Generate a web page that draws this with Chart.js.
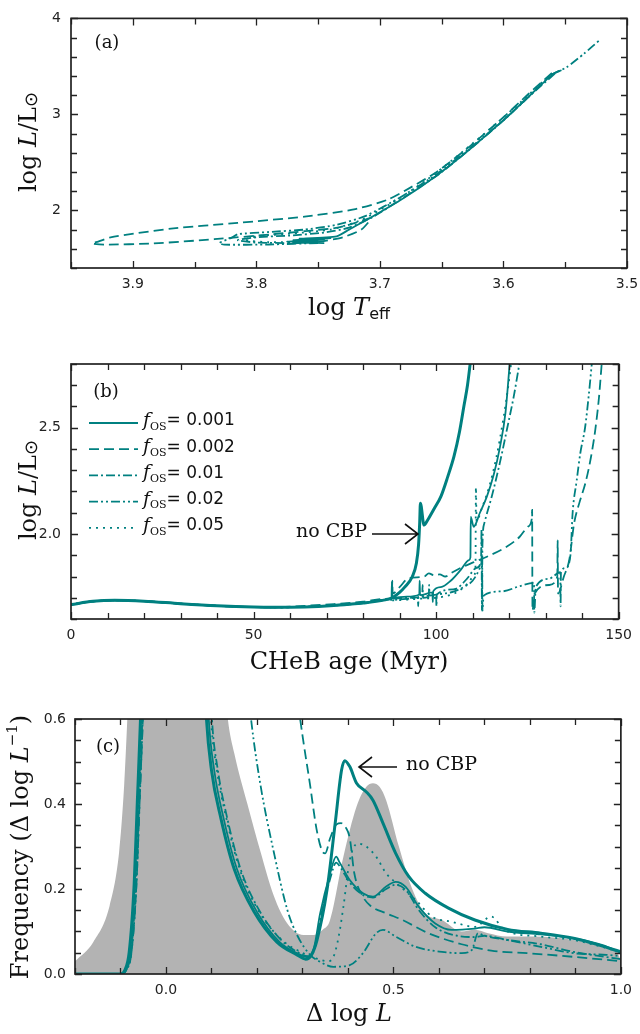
<!DOCTYPE html>
<html>
<head>
<meta charset="utf-8">
<script src="https://cdn.jsdelivr.net/npm/chart.js@4.4.1/dist/chart.umd.min.js"></script>
<style>
  body { margin: 0; background: #fff; width: 640px; height: 1034px; position: relative; overflow: hidden; }
  canvas { position: absolute; left: 0; }
</style>
</head>
<body>
<canvas id="hr" width="640" height="328" style="top:0"></canvas>
<canvas id="age" width="640" height="350" style="top:330px"></canvas>
<canvas id="hist" width="640" height="344" style="top:690px"></canvas>
<script>
// ---- panel (a): HR diagram, [log Teff, log L] ----
var hrTrack001 = [[3.745,1.66],[3.77,1.665],[3.75,1.68],[3.775,1.675],[3.745,1.695],[3.77,1.69],[3.74,1.71],[3.765,1.705],[3.735,1.73],[3.725,1.80],[3.708,1.92],[3.681,2.126],[3.654,2.364],[3.627,2.64],[3.60,2.94],[3.58,3.18],[3.56,3.42],[3.553,3.46]];
var hrTrack002 = [[3.75,1.67],[3.73,1.72],[3.715,1.80],[3.707,1.92],[3.72,1.87],[3.734,1.82],[3.76,1.785],[3.788,1.75],[3.834,1.70],[3.883,1.656],[3.923,1.643],[3.933,1.655],[3.928,1.675],[3.918,1.72],[3.869,1.81],[3.815,1.87],[3.761,1.935],[3.721,2.01],[3.694,2.11],[3.675,2.24],[3.654,2.40],[3.627,2.67],[3.60,2.97],[3.58,3.21],[3.56,3.44]];
var hrTrack01 = [[3.75,1.67],[3.77,1.66],[3.80,1.665],[3.815,1.69],[3.80,1.72],[3.77,1.74],[3.745,1.77],[3.725,1.82],[3.706,1.93],[3.68,2.14],[3.652,2.38],[3.625,2.66],[3.598,2.96],[3.578,3.2],[3.558,3.43]];
var hrTrack02 = [[3.75,1.66],[3.79,1.645],[3.826,1.643],[3.83,1.66],[3.82,1.717],[3.815,1.752],[3.79,1.775],[3.761,1.80],[3.735,1.85],[3.712,1.94],[3.683,2.14],[3.655,2.37],[3.628,2.64],[3.60,2.94],[3.58,3.18],[3.56,3.42],[3.549,3.49],[3.535,3.63],[3.522,3.776]];
var hrTrack05 = [[3.75,1.67],[3.79,1.67],[3.81,1.69],[3.80,1.73],[3.77,1.76],[3.74,1.80],[3.715,1.90],[3.69,2.08],[3.663,2.31],[3.636,2.58],[3.608,2.88],[3.585,3.14],[3.563,3.40],[3.556,3.45]];
var hrTempTicks = [3.5,3.55,3.6,3.65,3.7,3.75,3.8,3.85,3.9,3.95];
var hrTempLabels = [3.5,3.6,3.7,3.8,3.9];
var hrLumTicks = [1.4,1.6,1.8,2.0,2.2,2.4,2.6,2.8,3.0,3.2,3.4,3.6,3.8,4.0];
var hrLumLabels = [2,3,4];

// ---- panel (b): log L against CHeB age (Myr) ----
var ageBase = [[0,1.668],[6,1.683],[12,1.688],[20,1.684],[30,1.672],[40,1.662],[50,1.656],[56,1.655]];
var ageRise = [[64,1.657],[72,1.664],[80,1.675],[86,1.69]];
var ageNoCbp = [[88,1.70],[90,1.725],[91.4,1.75],[93.5,1.80],[94.6,1.862],[95.2,1.95],[95.5,2.05],[95.7,2.145],[96.7,2.042],[97.7,2.066],[99.5,2.12],[101.3,2.176],[103.2,2.27],[104.9,2.365],[106.4,2.48],[107.6,2.6],[108.6,2.7],[109.4,2.81]];
var age001 = [[87.8,1.70],[87.9,1.775],[88.0,1.70],[92,1.705],[95.4,1.715],[95.5,1.78],[95.6,1.712],[99,1.725],[99.1,1.68],[99.2,1.73],[101.3,1.75],[104,1.78],[106.7,1.83],[109,1.877],[109.4,1.89],[109.5,2.08],[110.3,2.034],[112,2.1],[113.9,2.176],[115.8,2.28],[117.5,2.41],[119,2.57],[120.2,2.81]];
var age002 = [[64,1.662],[72,1.67],[80,1.682],[86,1.695],[87.9,1.70],[88,1.78],[88.1,1.72],[90,1.75],[92.3,1.79],[96.8,1.80],[98,1.815],[99.5,1.805],[101,1.81],[102.5,1.80],[104,1.815],[106.7,1.84],[110,1.865],[113.9,1.893],[119.3,1.94],[122.9,1.987],[125.2,2.035],[126.2,2.07],[126.3,2.113],[126.4,1.64],[127,1.72],[131,1.76],[133.2,1.80],[133.3,1.97],[133.4,1.72],[135,1.80],[136.5,1.88],[137.8,2.05],[139.3,2.15],[140.9,2.24],[142.4,2.36],[143.6,2.49],[144.6,2.64],[145.4,2.81]];
var age01 = [[88,1.695],[93,1.70],[96.2,1.705],[96.3,1.76],[96.4,1.70],[100,1.71],[100.1,1.66],[100.2,1.715],[105,1.74],[108.5,1.79],[111,1.84],[112.3,1.87],[112.45,2.02],[112.55,1.64],[112.7,1.95],[113.2,2.05],[115.3,2.18],[117.4,2.33],[119.5,2.5],[121.3,2.65],[122.9,2.81]];
var age02 = [[88,1.69],[92,1.695],[95,1.70],[95.1,1.66],[95.2,1.705],[98,1.71],[98.1,1.76],[98.2,1.71],[100,1.715],[105,1.73],[108,1.755],[110,1.78],[112,1.84],[112.6,1.87],[112.7,1.64],[113,1.71],[118,1.73],[123,1.755],[126.8,1.77],[126.9,1.63],[127.3,1.75],[131,1.79],[134,1.82],[134.1,1.66],[134.2,1.82],[135.5,1.84],[136.8,1.9],[137.4,2.1],[138.5,2.25],[139.5,2.38],[140.8,2.5],[141.8,2.65],[142.7,2.81]];
var age05 = [[88,1.688],[95,1.695],[100,1.70],[105,1.72],[108,1.755],[110.3,1.80],[110.8,1.85],[110.9,2.22],[111.1,2.06],[112.5,2.12],[114.5,2.22],[116.5,2.36],[118.5,2.55],[119.8,2.7],[120.6,2.81]];
var ageTicks = [0,10,20,30,40,50,60,70,80,90,100,110,120,130,140,150];
var ageLabels = [0,50,100,150];
var ageLumTicks = [1.6,1.7,1.8,1.9,2.0,2.1,2.2,2.3,2.4,2.5,2.6,2.7,2.8];
var ageLumLabels = [2.0,2.5];
var fosNames = ['0.001','0.002','0.01','0.02','0.05'];

// ---- panel (c): frequency against delta log L ----
var obsFreq = [[-0.2,0.03],[-0.16,0.075],[-0.124,0.16],[-0.103,0.287],[-0.092,0.443],[-0.085,0.6],[-0.07,1.0],[0.03,1.2],[0.12,0.8],[0.136,0.6],[0.15,0.52],[0.179,0.40],[0.208,0.287],[0.237,0.184],[0.266,0.12],[0.302,0.092],[0.325,0.092],[0.345,0.105],[0.36,0.125],[0.39,0.276],[0.419,0.394],[0.44,0.44],[0.455,0.449],[0.47,0.44],[0.484,0.409],[0.512,0.30],[0.542,0.198],[0.57,0.143],[0.607,0.127],[0.65,0.10],[0.679,0.104],[0.708,0.096],[0.75,0.088],[0.81,0.088],[0.896,0.08],[0.968,0.064],[0.997,0.04],[1.0,0.02]];
var freqNoCbp = [[-0.2,0],[-0.1,0],[-0.09,0.01],[-0.081,0.05],[-0.07,0.21],[-0.063,0.405],[-0.056,0.6],[-0.045,1.0],[0,1.6],[0.06,1.2],[0.085,0.7],[0.089,0.6],[0.1,0.48],[0.121,0.365],[0.15,0.247],[0.194,0.146],[0.244,0.075],[0.288,0.045],[0.307,0.035],[0.32,0.045],[0.332,0.08],[0.354,0.198],[0.372,0.355],[0.386,0.48],[0.393,0.502],[0.404,0.488],[0.419,0.449],[0.44,0.429],[0.455,0.409],[0.477,0.355],[0.505,0.284],[0.534,0.229],[0.57,0.19],[0.621,0.155],[0.679,0.127],[0.751,0.105],[0.824,0.096],[0.896,0.084],[0.939,0.072],[1.0,0.052]];
var freq001 = [[-0.2,0],[-0.1,0],[-0.09,0.01],[-0.08,0.05],[-0.069,0.21],[-0.062,0.405],[-0.055,0.6],[-0.045,1.0],[0,1.6],[0.07,1.2],[0.09,0.7],[0.094,0.6],[0.106,0.48],[0.127,0.365],[0.156,0.247],[0.2,0.146],[0.25,0.075],[0.29,0.048],[0.31,0.04],[0.325,0.06],[0.339,0.143],[0.361,0.237],[0.374,0.276],[0.382,0.262],[0.404,0.221],[0.433,0.19],[0.455,0.182],[0.484,0.206],[0.505,0.217],[0.527,0.205],[0.556,0.158],[0.592,0.119],[0.628,0.104],[0.679,0.107],[0.7,0.11],[0.751,0.1],[0.824,0.093],[0.896,0.084],[0.96,0.068],[1.0,0.05]];
var freq002 = [[-0.2,0],[-0.1,0],[-0.087,0.01],[-0.076,0.05],[-0.065,0.21],[-0.058,0.405],[-0.051,0.6],[-0.04,1.0],[0,1.8],[0.15,1.6],[0.25,1.0],[0.295,0.6],[0.317,0.443],[0.331,0.341],[0.343,0.29],[0.35,0.284],[0.361,0.32],[0.375,0.352],[0.385,0.355],[0.395,0.345],[0.404,0.32],[0.414,0.237],[0.433,0.182],[0.45,0.16],[0.484,0.143],[0.52,0.127],[0.577,0.096],[0.65,0.07],[0.715,0.055],[0.794,0.049],[0.9,0.04],[1.0,0.03]];
var freq01 = [[-0.2,0],[-0.1,0],[-0.088,0.01],[-0.077,0.05],[-0.066,0.21],[-0.059,0.405],[-0.052,0.6],[-0.04,1.0],[0,1.6],[0.08,1.2],[0.097,0.7],[0.101,0.6],[0.114,0.48],[0.135,0.365],[0.164,0.247],[0.207,0.146],[0.255,0.078],[0.292,0.05],[0.312,0.042],[0.327,0.06],[0.341,0.138],[0.362,0.228],[0.374,0.262],[0.384,0.25],[0.404,0.215],[0.433,0.186],[0.455,0.18],[0.484,0.2],[0.505,0.21],[0.527,0.198],[0.556,0.15],[0.592,0.11],[0.64,0.09],[0.679,0.087],[0.7,0.09],[0.751,0.08],[0.824,0.07],[0.896,0.052],[0.968,0.04],[1.0,0.035]];
var freq02 = [[-0.2,0],[-0.1,0],[-0.087,0.01],[-0.076,0.05],[-0.065,0.21],[-0.058,0.405],[-0.051,0.6],[-0.04,1.0],[0,1.8],[0.1,1.5],[0.16,0.9],[0.187,0.6],[0.208,0.443],[0.237,0.287],[0.267,0.15],[0.289,0.09],[0.317,0.045],[0.34,0.028],[0.368,0.017],[0.404,0.021],[0.433,0.049],[0.462,0.096],[0.477,0.104],[0.505,0.088],[0.549,0.064],[0.607,0.052],[0.65,0.049],[0.672,0.056],[0.686,0.096],[0.7,0.09],[0.751,0.08],[0.824,0.064],[0.896,0.049],[0.968,0.045],[1.0,0.042]];
var freq05 = [[-0.2,0],[-0.1,0],[-0.088,0.01],[-0.078,0.05],[-0.067,0.21],[-0.06,0.405],[-0.053,0.6],[-0.04,1.0],[0,1.6],[0.08,1.2],[0.095,0.7],[0.099,0.6],[0.112,0.48],[0.133,0.365],[0.162,0.247],[0.205,0.146],[0.255,0.08],[0.3,0.05],[0.335,0.035],[0.355,0.03],[0.368,0.04],[0.38,0.09],[0.39,0.158],[0.404,0.268],[0.422,0.307],[0.44,0.3],[0.462,0.276],[0.484,0.237],[0.505,0.215],[0.549,0.174],[0.585,0.135],[0.628,0.123],[0.679,0.111],[0.715,0.135],[0.744,0.104],[0.824,0.088],[0.896,0.08],[1.0,0.052]];
var dlTicks = [-0.2,-0.1,0,0.1,0.2,0.3,0.4,0.5,0.6,0.7,0.8,0.9,1.0];
var dlLabels = [0,0.5,1.0];
var freqTicks = [0,0.05,0.1,0.15,0.2,0.25,0.3,0.35,0.4,0.45,0.5,0.55,0.6];
var freqLabels = [0,0.2,0.4,0.6];

var teal = '#008080';
var dashes = { solid: [], dashed: [10,5], dashdot: [9,3,2,3], dashdotdot: [9,3,2,3,2,3], dotted: [2,5] };
var SERIF = '24px "DejaVu Serif"', SERIF_I = 'italic 24px "DejaVu Serif"';

function pts(arr) {
  return arr.map(function(p){ return {x: p[0], y: p[1]}; });
}

function line(arr, dash, width, extra) {
  var ds = {
    data: pts(arr), showLine: true, borderColor: teal, backgroundColor: teal,
    borderWidth: width || 1.8, borderDash: dashes[dash], pointRadius: 0, fill: false, clip: 0
  };
  for (var k in extra) ds[k] = extra[k];
  return ds;
}

function axis(o) {
  return {
    type: 'linear', min: o.min, max: o.max, reverse: !!o.reverse,
    grid: { display: false, drawTicks: false }, border: { display: false },
    afterBuildTicks: function(s){ s.ticks = o.ticks.map(function(v){ return {value: v}; }); },
    afterFit: function(s){ if (o.h) s.height = o.h; if (o.w) s.width = o.w; },
    ticks: {
      autoSkip: false, maxRotation: 0, padding: o.pad, color: '#222',
      font: { family: 'DejaVu Sans', size: 14 },
      callback: function(v){
        for (var i = 0; i < o.labels.length; i++)
          if (Math.abs(o.labels[i] - v) < 1e-9) return o.fmt(o.labels[i]);
        return '';
      }
    }
  };
}

function rich(ctx, parts, x, y, align, angle) {
  ctx.save();
  ctx.translate(x, y);
  if (angle) ctx.rotate(angle);
  ctx.textBaseline = 'middle';
  ctx.textAlign = 'left';
  ctx.fillStyle = '#111';
  var w = 0, widths = [];
  parts.forEach(function(p){ ctx.font = p.f; var m = ctx.measureText(p.t).width; widths.push(m); w += m; });
  var cx = align === 'center' ? -w / 2 : (align === 'right' ? -w : 0);
  parts.forEach(function(p, i){ ctx.font = p.f; ctx.fillText(p.t, cx, p.dy || 0); cx += widths[i]; });
  ctx.restore();
}

function arrow(ctx, x0, y, x1) {
  var d = x1 > x0 ? -1 : 1;
  ctx.save();
  ctx.strokeStyle = '#111';
  ctx.lineWidth = 1.6;
  ctx.beginPath();
  ctx.moveTo(x0, y); ctx.lineTo(x1, y);
  ctx.moveTo(x1 + d * 13, y - 10); ctx.lineTo(x1, y); ctx.lineTo(x1 + d * 13, y + 10);
  ctx.stroke();
  ctx.restore();
}

// frame, inward ticks on all four sides, and the labels
function decor(draw) {
  return {
    id: 'decor',
    afterDatasetsDraw: function(chart) {
      var ctx = chart.ctx, a = chart.chartArea, xs = chart.scales.x, ys = chart.scales.y;
      ctx.save();
      ctx.strokeStyle = '#222';
      ctx.lineWidth = 1.3;
      ctx.beginPath();
      xs.ticks.forEach(function(t){
        var p = Math.round(xs.getPixelForValue(t.value)) + 0.5, n = t.label ? 7 : 6;
        ctx.moveTo(p, a.bottom); ctx.lineTo(p, a.bottom - n);
        ctx.moveTo(p, a.top); ctx.lineTo(p, a.top + n);
      });
      ys.ticks.forEach(function(t){
        var p = Math.round(ys.getPixelForValue(t.value)) + 0.5, n = t.label ? 7 : 6;
        ctx.moveTo(a.left, p); ctx.lineTo(a.left + n, p);
        ctx.moveTo(a.right, p); ctx.lineTo(a.right - n, p);
      });
      ctx.stroke();
      ctx.lineWidth = 1.7;
      ctx.strokeRect(a.left, a.top, a.right - a.left, a.bottom - a.top);
      ctx.restore();
      draw(ctx, chart);
    }
  };
}

Chart.defaults.animation = false;
Chart.defaults.font.family = 'DejaVu Sans';

var baseOpts = function(pad, xAx, yAx) {
  return {
    responsive: false, animation: false,
    layout: { padding: pad },
    plugins: { legend: { display: false }, tooltip: { enabled: false } },
    elements: { point: { radius: 0 } },
    scales: { x: xAx, y: yAx }
  };
};

// (a)
new Chart(document.getElementById('hr'), {
  type: 'scatter',
  data: { datasets: [
    line(hrTrack001, 'solid', 1.8, { tension: 0.2 }),
    line(hrTrack002, 'dashed', 1.8, { tension: 0.2 }),
    line(hrTrack01, 'dashdot', 1.8, { tension: 0.2 }),
    line(hrTrack02, 'dashdotdot', 1.8, { tension: 0.2 }),
    line(hrTrack05, 'dotted', 1.8, { tension: 0.2 })
  ]},
  options: baseOpts({ top: 13, right: 13, left: 0, bottom: 0 },
    axis({ min: 3.5, max: 3.95, reverse: true, ticks: hrTempTicks, labels: hrTempLabels, fmt: function(v){ return v.toFixed(1); }, pad: 8, h: 60 }),
    axis({ min: 1.4, max: 4.0, ticks: hrLumTicks, labels: hrLumLabels, fmt: function(v){ return String(v); }, pad: 10, w: 71 })),
  plugins: [decor(function(ctx){
    rich(ctx, [{t: '(a)', f: '18px "DejaVu Serif"'}], 107, 43, 'center');
    rich(ctx, [{t: 'log ', f: SERIF}, {t: 'T', f: SERIF_I}, {t: 'eff', f: '16px "DejaVu Sans"', dy: 6}], 349, 309, 'center');
    rich(ctx, [{t: 'log ', f: SERIF}, {t: 'L', f: SERIF_I}, {t: '/L', f: SERIF}, {t: '⊙', f: '18px "DejaVu Sans"', dy: 2}], 30, 142, 'center', -Math.PI / 2);
  })]
});

// (b)
var legendStyles = ['solid', 'dashed', 'dashdot', 'dashdotdot', 'dotted'];
new Chart(document.getElementById('age'), {
  type: 'scatter',
  data: { datasets: [
    line(ageBase.concat(ageRise, ageNoCbp), 'solid', 3, { cubicInterpolationMode: 'monotone' }),
    line(ageBase.concat(ageRise, age001), 'solid', 1.8, { cubicInterpolationMode: 'monotone' }),
    line(ageBase.concat(age002), 'dashed', 1.8, { cubicInterpolationMode: 'monotone' }),
    line(ageBase.concat(ageRise, age01), 'dashdot', 1.8, { cubicInterpolationMode: 'monotone' }),
    line(ageBase.concat(ageRise, age02), 'dashdotdot', 1.8, { cubicInterpolationMode: 'monotone' }),
    line(ageBase.concat(ageRise, age05), 'dotted', 1.8, { cubicInterpolationMode: 'monotone' })
  ]},
  options: baseOpts({ top: 34, right: 14, left: 0, bottom: 0 },
    axis({ min: 0, max: 150, ticks: ageTicks, labels: ageLabels, fmt: function(v){ return String(v); }, pad: 8, h: 61 }),
    axis({ min: 1.6, max: 2.8, ticks: ageLumTicks, labels: ageLumLabels, fmt: function(v){ return v.toFixed(1); }, pad: 10, w: 71 })),
  plugins: [decor(function(ctx){
    rich(ctx, [{t: '(b)', f: '18px "DejaVu Serif"'}], 106, 62, 'center');
    rich(ctx, [{t: 'CHeB age (Myr)', f: SERIF}], 349, 333, 'center');
    rich(ctx, [{t: 'log ', f: SERIF}, {t: 'L', f: SERIF_I}, {t: '/L', f: SERIF}, {t: '⊙', f: '18px "DejaVu Sans"', dy: 2}], 30, 160, 'center', -Math.PI / 2);
    fosNames.forEach(function(name, i){
      var y = 93 + i * 26.2;
      ctx.save();
      ctx.strokeStyle = teal;
      ctx.lineWidth = 1.8;
      ctx.setLineDash(dashes[legendStyles[i]]);
      ctx.beginPath(); ctx.moveTo(89, y); ctx.lineTo(138, y); ctx.stroke();
      ctx.restore();
      rich(ctx, [{t: 'f', f: 'italic 19px "DejaVu Serif"'}, {t: 'OS', f: '11px "DejaVu Serif"', dy: 6},
                 {t: '= ' + name, f: '17px "DejaVu Sans"'}], 143, y - 2, 'left');
    });
    rich(ctx, [{t: 'no CBP', f: '19px "DejaVu Serif"'}], 367, 202, 'right');
    arrow(ctx, 372, 204, 418);
  })]
});

// (c)
new Chart(document.getElementById('hist'), {
  type: 'scatter',
  data: { datasets: [
    line(freqNoCbp, 'solid', 3, { cubicInterpolationMode: 'monotone' }),
    line(freq001, 'solid', 1.8, { cubicInterpolationMode: 'monotone' }),
    line(freq002, 'dashed', 1.8, { cubicInterpolationMode: 'monotone' }),
    line(freq01, 'dashdot', 1.8, { cubicInterpolationMode: 'monotone' }),
    line(freq02, 'dashdotdot', 1.8, { cubicInterpolationMode: 'monotone' }),
    line(freq05, 'dotted', 1.8, { cubicInterpolationMode: 'monotone' }),
    { data: pts(obsFreq), showLine: true, borderWidth: 0, borderColor: 'rgba(0,0,0,0)', backgroundColor: '#b3b3b3',
      fill: 'origin', pointRadius: 0, cubicInterpolationMode: 'monotone', clip: 0, order: 10 }
  ]},
  options: baseOpts({ top: 29, right: 12, left: 0, bottom: 0 },
    axis({ min: -0.2, max: 1.0, ticks: dlTicks, labels: dlLabels, fmt: function(v){ return v.toFixed(1); }, pad: 8, h: 60 }),
    axis({ min: 0, max: 0.6, ticks: freqTicks, labels: freqLabels, fmt: function(v){ return v.toFixed(1); }, pad: 9, w: 75 })),
  plugins: [decor(function(ctx){
    rich(ctx, [{t: '(c)', f: '18px "DejaVu Serif"'}], 108, 57, 'center');
    rich(ctx, [{t: 'Δ log ', f: SERIF}, {t: 'L', f: SERIF_I}], 349, 325, 'center');
    rich(ctx, [{t: 'Frequency (Δ log ', f: SERIF}, {t: 'L', f: SERIF_I}, {t: '−1', f: '15px "DejaVu Serif"', dy: -9}, {t: ')', f: SERIF}],
         22, 157, 'center', -Math.PI / 2);
    rich(ctx, [{t: 'no CBP', f: '19px "DejaVu Serif"'}], 406, 75, 'left');
    arrow(ctx, 397, 77, 359);
  })]
});
</script>
</body>
</html>
